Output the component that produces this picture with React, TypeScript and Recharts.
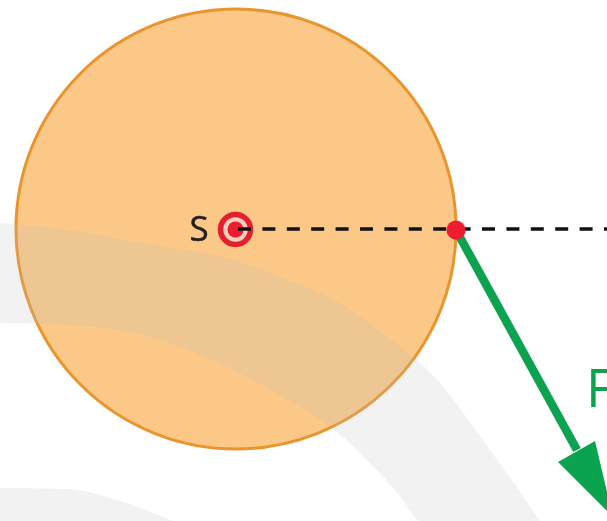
import React from "react";
import { ComposedChart, XAxis, YAxis, Area, Line, Scatter } from "recharts";

const upperBand = [
  { x: 0, range: [223, 323] },
  { x: 83, range: [232, 326] },
  { x: 143, range: [243, 335] },
  { x: 233, range: [260, 370] },
  { x: 283, range: [278, 397] },
  { x: 337, range: [302, 432] },
  { x: 400, range: [347, 496] },
  { x: 421, range: [364, 521] },
  { x: 440, range: [383, 521] },
  { x: 480, range: [436, 521] },
  { x: 540, range: [521, 521] },
];
const lowerBand = [
  { x: 0, range: [488, 521] },
  { x: 67, range: [489, 521] },
  { x: 117, range: [500, 521] },
  { x: 173, range: [521, 521] },
];
const body = [{ x: 236, y: 229 }];
const focus = [{ x: 235.5, y: 229.5 }];
const planet = [{ x: 456, y: 230 }];
const radiusLine = [{ x: 238, y: 229 }, { x: 607, y: 229 }];
const forceShaft = [{ x: 456, y: 230 }, { x: 577, y: 450 }];
const forceHead = [
  { x: 558, range: [462, 462] },
  { x: 595, range: [441, 499] },
  { x: 613, range: [517, 517] },
];
const labelS = [{ x: 199, y: 227, text: "S" }];
const labelF = [{ x: 586, y: 386, text: "F" }];

const SunShape = (p: any) => (
  <circle cx={p.cx} cy={p.cy} r={220} fill="#fbc888" stroke="#e9942c" strokeWidth={3} />
);
const FocusShape = (p: any) => (
  <g>
    <circle cx={p.cx} cy={p.cy} r={15} fill="#f9cfc0" stroke="#e3202c" strokeWidth={5.5} />
    <circle cx={p.cx} cy={p.cy} r={8} fill="#ed1c2e" />
  </g>
);
const PlanetShape = (p: any) => <circle cx={p.cx} cy={p.cy} r={9.5} fill="#ed1c2e" />;
const textShape = (size: number, fill: string, anchor: string, weight: number) => (p: any) => (
  <text
    x={p.cx}
    y={p.cy}
    fontFamily="'Open Sans', sans-serif"
    fontSize={size}
    fill={fill}
    stroke={fill}
    strokeWidth={weight}
    textAnchor={anchor}
    dominantBaseline="central"
  >
    {p.payload.text}
  </text>
);

export default function App() {
  return (
    <div style={{ position: "fixed", left: 0, top: 0, width: 607, height: 521, background: "#fff", overflow: "hidden", filter: "blur(0.7px)" }}>
      <ComposedChart width={607} height={521} margin={{ top: 0, right: 0, bottom: 0, left: 0 }}>
        <XAxis type="number" dataKey="x" domain={[0, 607]} hide allowDataOverflow />
        <YAxis type="number" domain={[0, 521]} reversed hide allowDataOverflow />
        <Scatter zIndex={10} data={body} dataKey="y" shape={SunShape} isAnimationActive={false} />
        <Area zIndex={20} data={upperBand} dataKey="range" type="monotone" stroke="none" fill="#bcbcbc" fillOpacity={0.2} dot={false} activeDot={false} isAnimationActive={false} />
        <Area zIndex={21} data={lowerBand} dataKey="range" type="monotone" stroke="none" fill="#bcbcbc" fillOpacity={0.2} dot={false} activeDot={false} isAnimationActive={false} />
        <Scatter zIndex={30} data={focus} dataKey="y" shape={FocusShape} isAnimationActive={false} />
        <Line zIndex={40} data={radiusLine} dataKey="y" type="linear" stroke="#111111" strokeWidth={3.6} strokeDasharray="13 11.4" dot={false} activeDot={false} isAnimationActive={false} />
        <Line zIndex={50} data={forceShaft} dataKey="y" type="linear" stroke="#0ca350" strokeWidth={8.5} dot={false} activeDot={false} isAnimationActive={false} />
        <Area zIndex={51} data={forceHead} dataKey="range" type="linear" stroke="none" fill="#0ca350" fillOpacity={1} dot={false} activeDot={false} isAnimationActive={false} />
        <Scatter zIndex={60} data={planet} dataKey="y" shape={PlanetShape} isAnimationActive={false} />
        <Scatter zIndex={70} data={labelS} dataKey="y" shape={textShape(35, "#231f20", "middle", 0.5)} isAnimationActive={false} />
        <Scatter zIndex={71} data={labelF} dataKey="y" shape={textShape(53, "#0ca350", "start", 0)} isAnimationActive={false} />
      </ComposedChart>
    </div>
  );
}
